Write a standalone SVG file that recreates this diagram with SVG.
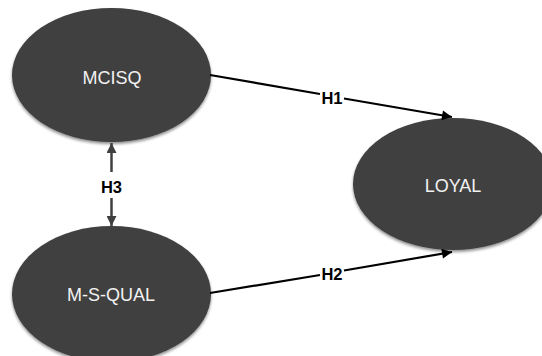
<svg xmlns="http://www.w3.org/2000/svg" width="542" height="356" viewBox="0 0 542 356">
  <defs>
    <style>
      .node ellipse { fill: #3f3f3f; filter: url(#sh); }
      .node text { fill: #f2f2f2; font-family: "Liberation Sans", Arial, sans-serif; font-size: 18px; text-anchor: middle; dominant-baseline: central; }
      .lbl { font-family: "Liberation Sans", Arial, sans-serif; font-size: 16.5px; font-weight: bold; fill: #000; text-anchor: middle; dominant-baseline: central; }
      .edge { stroke: #000; stroke-width: 2.2; fill: none; }
      .edge3 { stroke: #404040; stroke-width: 2.5; fill: none; }
    </style>
    <filter id="sh" x="-10%" y="-10%" width="120%" height="125%">
      <feGaussianBlur in="SourceAlpha" stdDeviation="1.5"/>
      <feOffset dx="0" dy="1.5" result="b"/>
      <feComponentTransfer><feFuncA type="linear" slope="0.45"/></feComponentTransfer>
      <feMerge><feMergeNode/><feMergeNode in="SourceGraphic"/></feMerge>
    </filter>
    <marker id="ah" viewBox="0 0 10 10" refX="10" refY="5" markerWidth="12" markerHeight="10" markerUnits="userSpaceOnUse" orient="auto">
      <path d="M0,0 L10,5 L0,10 z" fill="#000"/>
    </marker>
    <marker id="ah3" viewBox="0 0 10 10" refX="10" refY="5" markerWidth="12" markerHeight="10" markerUnits="userSpaceOnUse" orient="auto">
      <path d="M0,0 L10,5 L0,10 z" fill="#404040"/>
    </marker>
  </defs>
  <rect width="542" height="356" fill="#fff"/>
  <g id="MCISQ" class="node">
    <ellipse cx="111.5" cy="75" rx="99.5" ry="67"/>
    <text x="112" y="78">MCISQ</text>
  </g>
  <g id="LOYAL" class="node">
    <ellipse cx="453" cy="184" rx="100" ry="66"/>
    <text x="453" y="186">LOYAL</text>
  </g>
  <g id="MSQUAL" class="node">
    <ellipse cx="111.5" cy="294" rx="99.5" ry="68"/>
    <text x="111" y="295">M-S-QUAL</text>
  </g>
  <g id="connectors">
    <line class="edge" x1="210" y1="75" x2="320" y2="94"/>
    <line class="edge" x1="344" y1="98.5" x2="452" y2="117" marker-end="url(#ah)"/>
    <text class="lbl" x="332" y="97.5">H1</text>
    <line class="edge" x1="210" y1="293" x2="320" y2="275"/>
    <line class="edge" x1="344" y1="270.5" x2="452" y2="252" marker-end="url(#ah)"/>
    <text class="lbl" x="332" y="273.5">H2</text>
    <line class="edge3" x1="111.5" y1="172" x2="111.5" y2="143" marker-end="url(#ah3)"/>
    <line class="edge3" x1="111.5" y1="198" x2="111.5" y2="226" marker-end="url(#ah3)"/>
    <text class="lbl" x="111.5" y="186.5">H3</text>
  </g>
</svg>
